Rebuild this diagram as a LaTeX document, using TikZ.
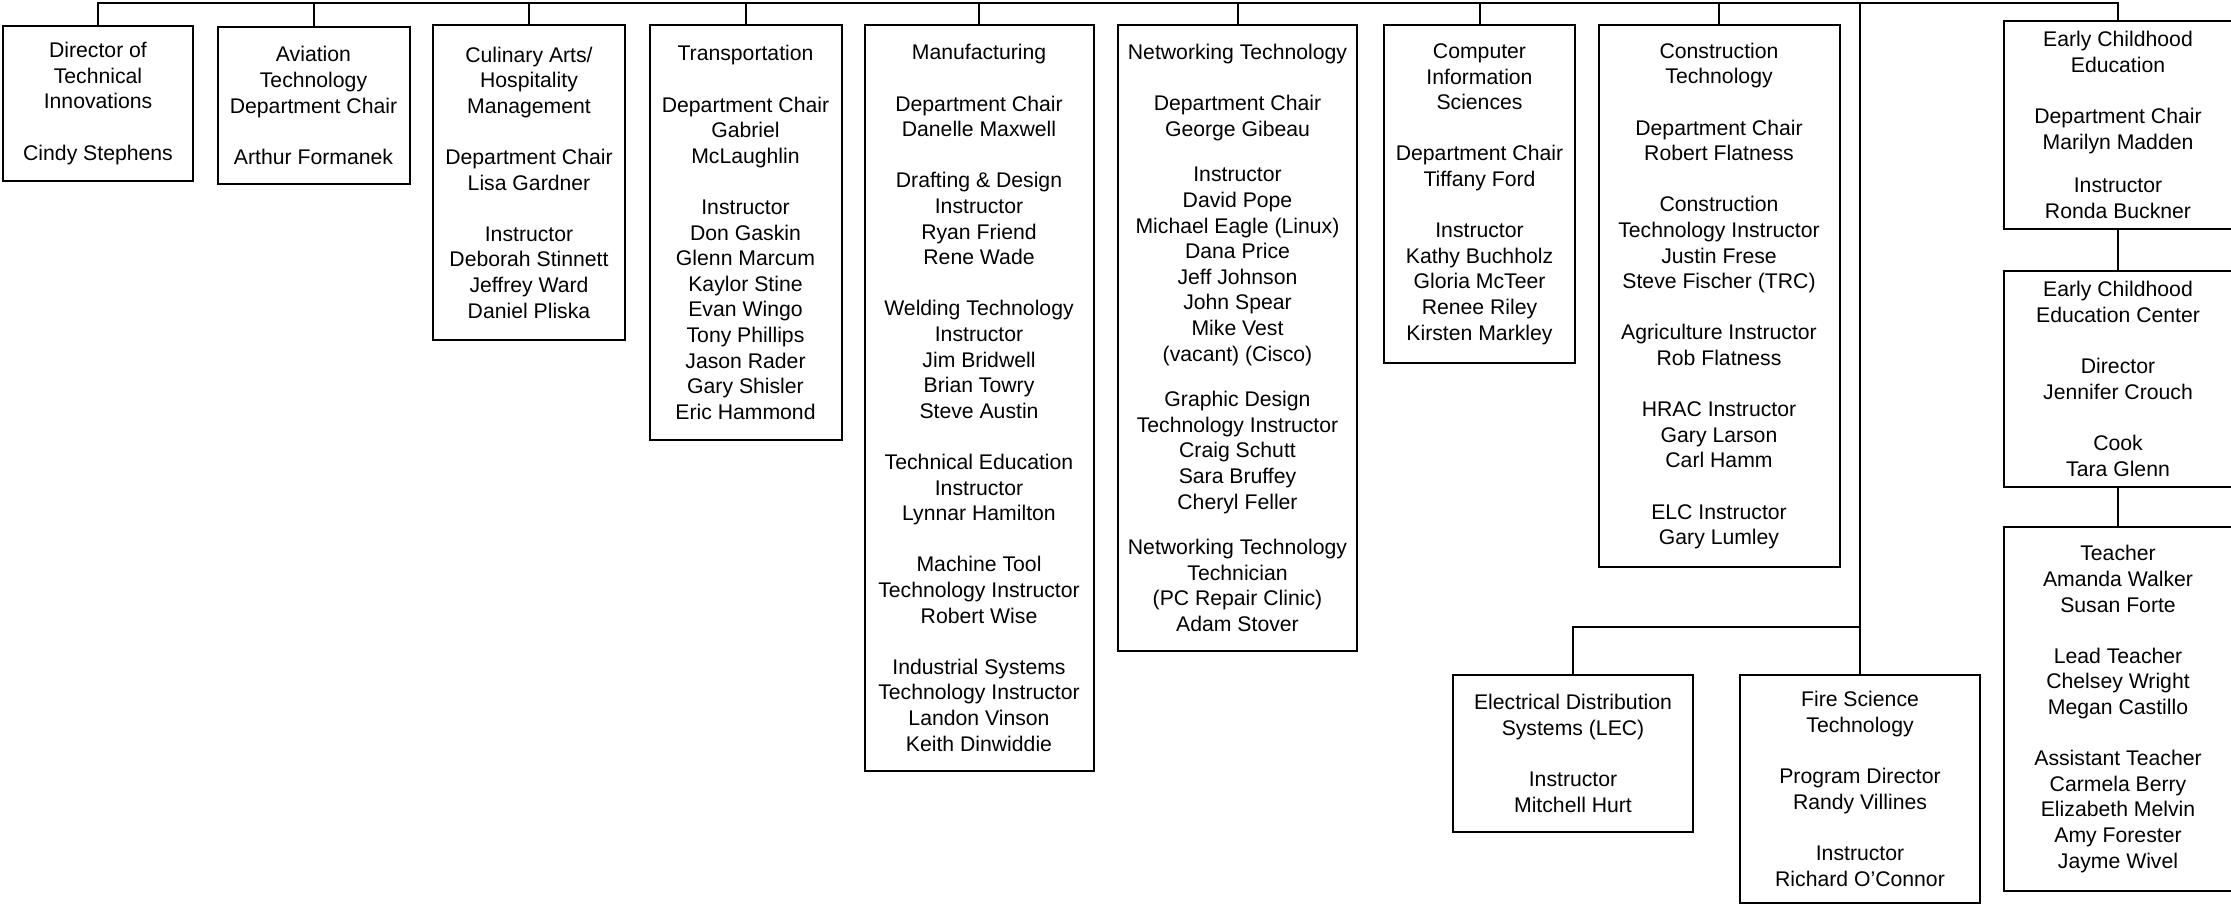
\documentclass[tikz,border=0pt]{standalone}
\usepackage{fontspec}
\setmainfont{Liberation Sans}
\usepackage{tikz}

\newcommand{\skipline}{\\[12.8pt]}
\newcommand{\halfline}{\\[10pt]}

\begin{document}
\begin{tikzpicture}[x=0.5pt,y=-0.5pt,line width=1pt]
  \tikzstyle{unit}=[draw,align=center,inner sep=0pt,font=\fontsize{10.6}{12.8}\selectfont]
  \useasboundingbox (0,0) rectangle (2231,904);

  % departments along the top bar
  \node[unit,minimum width=95pt,minimum height=77.5pt]   (dir)   at (98,103.5)   {Director of\\Technical\\Innovations\skipline Cindy Stephens};
  \node[unit,minimum width=96pt,minimum height=78pt]     (avi)   at (313.5,105.5) {Aviation\\Technology\\Department Chair\skipline Arthur Formanek};
  \node[unit,minimum width=96pt,minimum height=157.5pt]  (cul)   at (529,182.5)  {Culinary Arts/\\Hospitality\\Management\skipline Department Chair\\Lisa Gardner\skipline Instructor\\Deborah Stinnett\\Jeffrey Ward\\Daniel Pliska};
  \node[unit,minimum width=96pt,minimum height=207.5pt]  (trans) at (745.5,232.5) {Transportation\skipline Department Chair\\Gabriel\\McLaughlin\skipline Instructor\\Don Gaskin\\Glenn Marcum\\Kaylor Stine\\Evan Wingo\\Tony Phillips\\Jason Rader\\Gary Shisler\\Eric Hammond};
  \node[unit,minimum width=114.5pt,minimum height=373pt] (manu)  at (979,398)    {Manufacturing\skipline Department Chair\\Danelle Maxwell\skipline Drafting \& Design\\Instructor\\Ryan Friend\\Rene Wade\skipline Welding Technology\\Instructor\\Jim Bridwell\\Brian Towry\\Steve Austin\skipline Technical Education\\Instructor\\Lynnar Hamilton\skipline Machine Tool\\Technology Instructor\\Robert Wise\skipline Industrial Systems\\Technology Instructor\\Landon Vinson\\Keith Dinwiddie};
  \node[unit,minimum width=119.5pt,minimum height=313pt] (net)   at (1237.5,338) {Networking Technology\skipline Department Chair\\George Gibeau\halfline Instructor\\David Pope\\Michael Eagle (Linux)\\Dana Price\\Jeff Johnson\\John Spear\\Mike Vest\\(vacant) (Cisco)\halfline Graphic Design\\Technology Instructor\\Craig Schutt\\Sara Bruffey\\Cheryl Feller\halfline Networking Technology\\Technician\\(PC Repair Clinic)\\Adam Stover};
  \node[unit,minimum width=95.5pt,minimum height=169pt]  (comp)  at (1479.5,194) {Computer\\Information\\Sciences\skipline Department Chair\\Tiffany Ford\skipline Instructor\\Kathy Buchholz\\Gloria McTeer\\Renee Riley\\Kirsten Markley};
  \node[unit,minimum width=120.5pt,minimum height=271pt] (cons)  at (1719,296)   {Construction\\Technology\skipline Department Chair\\Robert Flatness\skipline Construction\\Technology Instructor\\Justin Frese\\Steve Fischer (TRC)\skipline Agriculture Instructor\\Rob Flatness\skipline HRAC Instructor\\Gary Larson\\Carl Hamm\skipline ELC Instructor\\Gary Lumley};

  % branch under the bar
  \node[unit,minimum width=120pt,minimum height=78.5pt]  (elec)  at (1573,753.5) {Electrical Distribution\\Systems (LEC)\skipline Instructor\\Mitchell Hurt};
  \node[unit,minimum width=120pt,minimum height=114pt]   (fire)  at (1860,789)   {Fire Science\\Technology\skipline Program Director\\Randy Villines\skipline Instructor\\Richard O’Connor};

  % early childhood column
  \node[unit,minimum width=114pt,minimum height=104pt]   (ece)   at (2118,125)   {Early Childhood\\Education\skipline Department Chair\\Marilyn Madden\\[9pt]Instructor\\Ronda Buckner};
  \node[unit,minimum width=114pt,minimum height=108pt]   (ecec)  at (2118,379)   {Early Childhood\\Education Center\skipline Director\\Jennifer Crouch\skipline Cook\\Tara Glenn};
  \node[unit,minimum width=114pt,minimum height=182pt]   (teach) at (2118,709)   {Teacher\\Amanda Walker\\Susan Forte\skipline Lead Teacher\\Chelsey Wright\\Megan Castillo\skipline Assistant Teacher\\Carmela Berry\\Elizabeth Melvin\\Amy Forester\\Jayme Wivel};

  \coordinate (bar)  at (1000,3.5);
  \coordinate (fork) at (1860,627);

  \draw (dir.north) |- (bar) -| (ece.north);
  \foreach \n in {avi,cul,trans,manu,net,comp,cons,fire}
    \draw (\n.north) -- (\n.north |- bar);
  \draw (fork) -| (elec.north);
  \draw (ece.south) -- (ecec.north);
  \draw (ecec.south) -- (teach.north);

\end{tikzpicture}
\end{document}
